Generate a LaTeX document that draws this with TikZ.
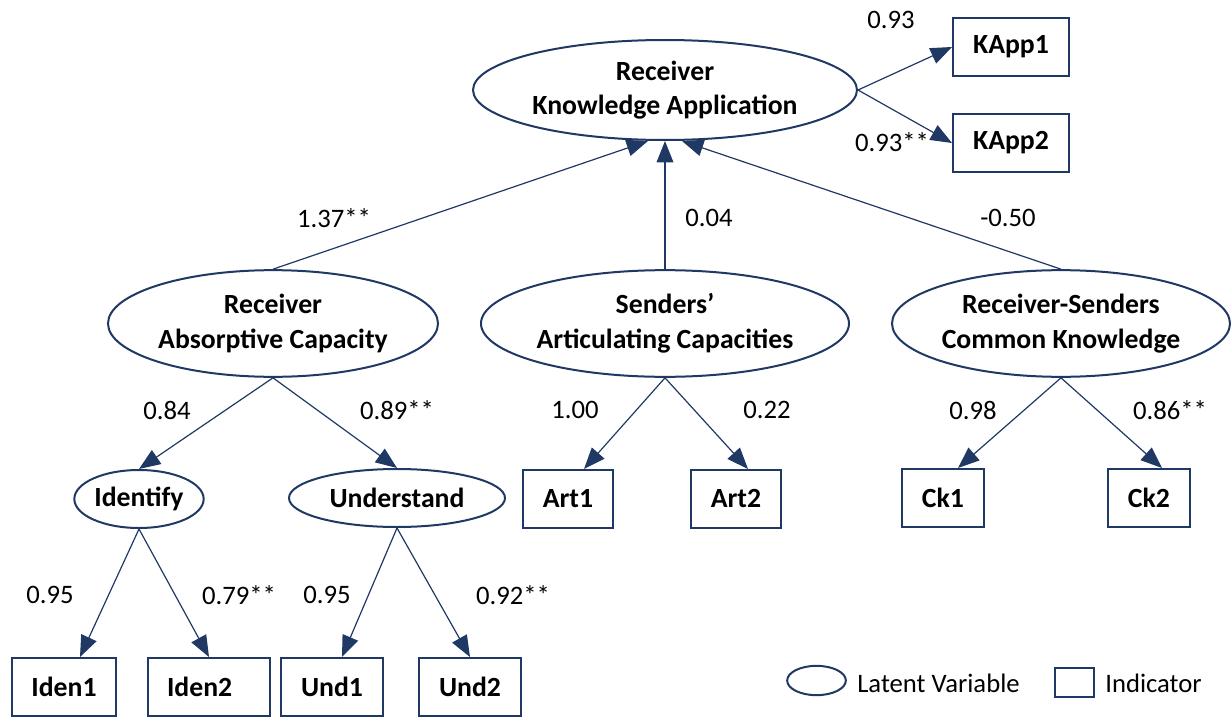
\documentclass[tikz,border=0pt]{standalone}
\usepackage{fontspec}
\setmainfont{Carlito}
\definecolor{semnavy}{RGB}{31, 56, 100}
\usetikzlibrary{
    shapes.geometric,
    arrows.meta,
    calc
}

\begin{document}
\begin{tikzpicture}[x=0.75pt, y=-0.75pt,
    latent/.style={ellipse, draw=semnavy, line width=1.5pt, inner sep=0pt, align=center, minimum height=80pt, font=\fontsize{20.8}{26}\selectfont\bfseries},
    indic/.style={rectangle, draw=semnavy, line width=1.5pt, inner sep=0pt, minimum height=43.5pt, font=\fontsize{20.8}{24}\selectfont\bfseries},
    loading/.style={-{Triangle[length=16pt, width=12.5pt]}, semnavy, line width=0.9pt},
    coef/.style={font=\fontsize{20}{24}\selectfont}]
                    \useasboundingbox (0,0) rectangle (1231,717);

                    % Outcome
                    \node[latent, minimum width=288pt, minimum height=75pt] (kapp) at (665,90) {Receiver\\Knowledge Application};
                    \node[indic, minimum width=87pt] (kapp1) at (1011,47) {KApp1};
                    \node[indic, minimum width=87pt] (kapp2) at (1011,143) {KApp2};

                    % Predictors
                    \node[latent, minimum width=247.5pt] (abs) at (273,323.5) {Receiver\\Absorptive Capacity};
                    \node[latent, minimum width=276pt] (sen) at (665,323.5) {Senders'\\Articulating Capacities};
                    \node[latent, minimum width=253.5pt] (ck) at (1061,323.5) {Receiver-Senders\\Common Knowledge};

                    % Sub-dimensions
                    \node[latent, minimum width=97pt, minimum height=43.5pt] (ident) at (139,499) {Identify};
                    \node[latent, minimum width=162pt, minimum height=43.5pt] (under) at (397,498) {Understand};

                    % Indicators
                    \node[indic, minimum width=78pt] (iden1) at (64,687) {Iden1};
                    \node[indic, minimum width=91.5pt] (iden2) at (209,687) {Iden2\hspace*{14pt}};
                    \node[indic, minimum width=76pt] (und1) at (332,687) {Und1};
                    \node[indic, minimum width=76.5pt] (und2) at (470,687) {Und2};
                    \node[indic, minimum width=67.5pt] (art1) at (568,499) {Art1};
                    \node[indic, minimum width=67.5pt] (art2) at (736,499) {Art2};
                    \node[indic, minimum width=61pt] (ck1) at (943,498) {Ck1};
                    \node[indic, minimum width=61.5pt] (ck2) at (1149,498) {Ck2};

                    % Paths
                    \draw[loading] (kapp.east) -- (kapp1.west);
                    \draw[loading] (kapp.east) -- (kapp2.west);
                    \draw[loading] (abs.north) -- ($(kapp.south)+(-17,0)$);
                    \draw[loading] (sen.north) -- (kapp.south);
                    \draw[loading] (ck.north) -- ($(kapp.south)+(17,0)$);
                    \draw[loading] (abs.south) -- (ident.north);
                    \draw[loading] (abs.south) -- (under.north);
                    \draw[loading] (ident.south) -- ($(iden1.north)+(16,0)$);
                    \draw[loading] (ident.south) -- (iden2.north);
                    \draw[loading] (under.south) -- ($(und1.north)+(10,0)$);
                    \draw[loading] (under.south) -- (und2.north);
                    \draw[loading] (sen.south) -- ($(art1.north)+(16,0)$);
                    \draw[loading] (sen.south) -- ($(art2.north)+(12,0)$);
                    \draw[loading] (ck.south) -- ($(ck1.north)+(15,0)$);
                    \draw[loading] (ck.south) -- ($(ck2.north)+(13,0)$);

                    % Coefficients
                    \node[coef] (c-kapp1) at (891,20) {0.93};
                    \node[coef] (c-kapp2) at (892,142) {0.93**};
                    \node[coef] (c-abs) at (334,218) {1.37**};
                    \node[coef] (c-sen) at (709,218) {0.04};
                    \node[coef] (c-ck) at (1008,218) {-0.50};
                    \node[coef] (c-ident) at (167,410) {0.84};
                    \node[coef] (c-under) at (397,410) {0.89**};
                    \node[coef] (c-art1) at (575,410) {1.00};
                    \node[coef] (c-art2) at (767,410) {0.22};
                    \node[coef] (c-ck1) at (973,410) {0.98};
                    \node[coef] (c-ck2) at (1170,410) {0.86**};
                    \node[coef] (c-iden1) at (50,595) {0.95};
                    \node[coef] (c-iden2) at (239,595) {0.79**};
                    \node[coef] (c-und1) at (327,595) {0.95};
                    \node[coef] (c-und2) at (513,595) {0.92**};

                    % Legend
                    \node[ellipse, draw=semnavy, line width=1.5pt, minimum width=44pt, minimum height=22pt] (leg-lat) at (816.5,680.5) {};
                    \node[coef, right, inner sep=0pt] (leg-lat-txt) at (857,683) {Latent Variable};
                    \node[rectangle, draw=semnavy, line width=1.5pt, minimum width=29pt, minimum height=22pt] (leg-ind) at (1074.5,682.5) {};
                    \node[coef, right, inner sep=0pt] (leg-ind-txt) at (1105,683) {Indicator};
                \end{tikzpicture}
\end{document}
